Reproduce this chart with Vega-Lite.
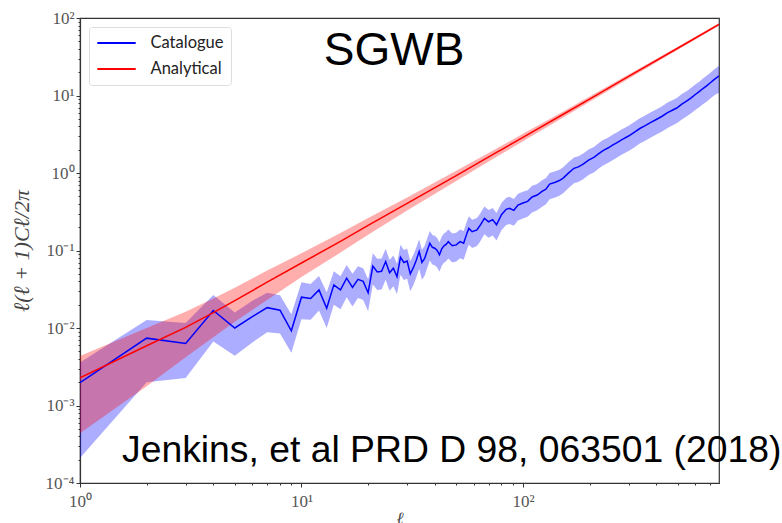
{
  "$schema": "https://vega.github.io/schema/vega-lite/v6.json",
  "width": 639,
  "height": 465,
  "autosize": {"type": "none"},
  "padding": {"left": 80, "top": 18, "right": 63, "bottom": 40},
  "background": "white",
  "config": {
    "view": {"stroke": "#333", "strokeWidth": 1.2},
    "axis": {
      "grid": false,
      "labelFont": "Liberation Serif",
      "labelFontSize": 17,
      "labelColor": "#555",
      "domainColor": "#333",
      "domainWidth": 1.2,
      "tickColor": "#333",
      "tickWidth": 1,
      "titleFont": "Liberation Serif",
      "titleFontWeight": "normal",
      "titleFontSize": 20,
      "titleFontStyle": "italic",
      "titleColor": "#444",
      "labelFlush": false,
      "labelOverlap": false,
      "labelBound": false
    },
    "legend": {
      "orient": "top-left",
      "offset": 9,
      "symbolType": "M-2.4,0H2.4",
      "symbolStrokeWidth": 2,
      "symbolSize": 256,
      "symbolOffset": 11.5,
      "labelFont": "Lato",
      "labelFontSize": 16.5,
      "labelColor": "#222",
      "strokeColor": "#dddddd",
      "fillColor": "white",
      "padding": 7,
      "cornerRadius": 3,
      "rowPadding": 8,
      "labelOffset": 25
    }
  },
  "datasets": {
    "cat": [
      {"l": 1, "v": 0.00197, "lo": 0.00021, "hi": 0.0036},
      {"l": 2, "v": 0.0074, "lo": 0.002, "hi": 0.0127},
      {"l": 3, "v": 0.0063, "lo": 0.00226, "hi": 0.0116},
      {"l": 4, "v": 0.0168, "lo": 0.0067, "hi": 0.0267},
      {"l": 5, "v": 0.01, "lo": 0.0044, "hi": 0.0158},
      {"l": 6, "v": 0.014, "lo": 0.0065, "hi": 0.0225},
      {"l": 7, "v": 0.0183, "lo": 0.0088, "hi": 0.0285},
      {"l": 8, "v": 0.017, "lo": 0.0085, "hi": 0.0265},
      {"l": 9, "v": 0.0092, "lo": 0.0048, "hi": 0.015},
      {"l": 10, "v": 0.025, "lo": 0.013, "hi": 0.039},
      {"l": 11, "v": 0.024, "lo": 0.0128, "hi": 0.037},
      {"l": 12, "v": 0.031, "lo": 0.0168, "hi": 0.047},
      {"l": 13, "v": 0.018, "lo": 0.01, "hi": 0.029},
      {"l": 14, "v": 0.036, "lo": 0.02, "hi": 0.054},
      {"l": 15, "v": 0.031, "lo": 0.0175, "hi": 0.0465},
      {"l": 16, "v": 0.044, "lo": 0.025, "hi": 0.065},
      {"l": 17, "v": 0.0335, "lo": 0.019, "hi": 0.05},
      {"l": 18, "v": 0.0425, "lo": 0.0243, "hi": 0.0625},
      {"l": 19, "v": 0.04, "lo": 0.023, "hi": 0.059},
      {"l": 20, "v": 0.0285, "lo": 0.0165, "hi": 0.0425},
      {"l": 21, "v": 0.063, "lo": 0.0365, "hi": 0.092},
      {"l": 22, "v": 0.053, "lo": 0.031, "hi": 0.078},
      {"l": 23, "v": 0.054, "lo": 0.0315, "hi": 0.079},
      {"l": 24, "v": 0.072, "lo": 0.042, "hi": 0.105},
      {"l": 25, "v": 0.0515, "lo": 0.0302, "hi": 0.0755},
      {"l": 26, "v": 0.059, "lo": 0.0346, "hi": 0.086},
      {"l": 27, "v": 0.046, "lo": 0.0272, "hi": 0.0675},
      {"l": 28, "v": 0.082, "lo": 0.0485, "hi": 0.119},
      {"l": 29, "v": 0.07, "lo": 0.0415, "hi": 0.1015},
      {"l": 30, "v": 0.073, "lo": 0.0433, "hi": 0.106},
      {"l": 31, "v": 0.05, "lo": 0.0298, "hi": 0.073},
      {"l": 32, "v": 0.06, "lo": 0.0357, "hi": 0.0875},
      {"l": 33, "v": 0.075, "lo": 0.0447, "hi": 0.109},
      {"l": 34, "v": 0.097, "lo": 0.058, "hi": 0.14},
      {"l": 35, "v": 0.07, "lo": 0.0419, "hi": 0.102},
      {"l": 36, "v": 0.079, "lo": 0.0473, "hi": 0.115},
      {"l": 37, "v": 0.1, "lo": 0.06, "hi": 0.145},
      {"l": 38, "v": 0.124, "lo": 0.0745, "hi": 0.179},
      {"l": 39, "v": 0.11, "lo": 0.0662, "hi": 0.159},
      {"l": 40, "v": 0.107, "lo": 0.0645, "hi": 0.155},
      {"l": 41, "v": 0.1, "lo": 0.0604, "hi": 0.145},
      {"l": 42, "v": 0.088, "lo": 0.0532, "hi": 0.1275},
      {"l": 43, "v": 0.105, "lo": 0.0636, "hi": 0.152},
      {"l": 44, "v": 0.115, "lo": 0.0697, "hi": 0.166},
      {"l": 45, "v": 0.12, "lo": 0.0728, "hi": 0.173},
      {"l": 46, "v": 0.13, "lo": 0.079, "hi": 0.187},
      {"l": 47, "v": 0.122, "lo": 0.0742, "hi": 0.176},
      {"l": 48, "v": 0.115, "lo": 0.07, "hi": 0.166},
      {"l": 50, "v": 0.118, "lo": 0.072, "hi": 0.17},
      {"l": 52, "v": 0.13, "lo": 0.0795, "hi": 0.187},
      {"l": 54, "v": 0.124, "lo": 0.076, "hi": 0.178},
      {"l": 56, "v": 0.17, "lo": 0.1045, "hi": 0.244},
      {"l": 57, "v": 0.193, "lo": 0.119, "hi": 0.276},
      {"l": 59, "v": 0.175, "lo": 0.108, "hi": 0.25},
      {"l": 62, "v": 0.184, "lo": 0.114, "hi": 0.262},
      {"l": 64, "v": 0.21, "lo": 0.13, "hi": 0.299},
      {"l": 67, "v": 0.26, "lo": 0.162, "hi": 0.369},
      {"l": 70, "v": 0.235, "lo": 0.1465, "hi": 0.333},
      {"l": 73, "v": 0.25, "lo": 0.156, "hi": 0.354},
      {"l": 76, "v": 0.215, "lo": 0.1345, "hi": 0.304},
      {"l": 80, "v": 0.29, "lo": 0.182, "hi": 0.409},
      {"l": 84, "v": 0.34, "lo": 0.2135, "hi": 0.479},
      {"l": 87, "v": 0.35, "lo": 0.22, "hi": 0.492},
      {"l": 91, "v": 0.33, "lo": 0.208, "hi": 0.463},
      {"l": 95, "v": 0.385, "lo": 0.243, "hi": 0.539},
      {"l": 100, "v": 0.41, "lo": 0.259, "hi": 0.573},
      {"l": 105, "v": 0.43, "lo": 0.272, "hi": 0.6},
      {"l": 110, "v": 0.49, "lo": 0.31, "hi": 0.683},
      {"l": 116, "v": 0.52, "lo": 0.33, "hi": 0.723},
      {"l": 122, "v": 0.58, "lo": 0.368, "hi": 0.806},
      {"l": 127, "v": 0.62, "lo": 0.394, "hi": 0.86},
      {"l": 132, "v": 0.72, "lo": 0.458, "hi": 0.997},
      {"l": 140, "v": 0.76, "lo": 0.484, "hi": 1.05},
      {"l": 146, "v": 0.8, "lo": 0.51, "hi": 1.104},
      {"l": 152, "v": 0.86, "lo": 0.548, "hi": 1.186},
      {"l": 160, "v": 0.99, "lo": 0.632, "hi": 1.363},
      {"l": 170, "v": 1.15, "lo": 0.735, "hi": 1.58},
      {"l": 178, "v": 1.2, "lo": 0.768, "hi": 1.646},
      {"l": 187, "v": 1.3, "lo": 0.832, "hi": 1.78},
      {"l": 198, "v": 1.47, "lo": 0.942, "hi": 2.01},
      {"l": 210, "v": 1.6, "lo": 1.025, "hi": 2.185},
      {"l": 220, "v": 1.78, "lo": 1.14, "hi": 2.43},
      {"l": 230, "v": 1.95, "lo": 1.25, "hi": 2.66},
      {"l": 242, "v": 2.1, "lo": 1.345, "hi": 2.86},
      {"l": 255, "v": 2.3, "lo": 1.475, "hi": 3.13},
      {"l": 265, "v": 2.45, "lo": 1.57, "hi": 3.33},
      {"l": 280, "v": 2.7, "lo": 1.73, "hi": 3.67},
      {"l": 300, "v": 3.0, "lo": 1.92, "hi": 4.07},
      {"l": 318, "v": 3.35, "lo": 2.14, "hi": 4.54},
      {"l": 337, "v": 3.75, "lo": 2.4, "hi": 5.08},
      {"l": 355, "v": 4.05, "lo": 2.59, "hi": 5.48},
      {"l": 378, "v": 4.5, "lo": 2.87, "hi": 6.08},
      {"l": 400, "v": 4.9, "lo": 3.13, "hi": 6.62},
      {"l": 425, "v": 5.4, "lo": 3.44, "hi": 7.29},
      {"l": 450, "v": 6.0, "lo": 3.82, "hi": 8.1},
      {"l": 475, "v": 6.5, "lo": 4.13, "hi": 8.77},
      {"l": 495, "v": 6.9, "lo": 4.38, "hi": 9.31},
      {"l": 520, "v": 7.7, "lo": 4.88, "hi": 10.39},
      {"l": 550, "v": 8.5, "lo": 5.38, "hi": 11.47},
      {"l": 575, "v": 9.3, "lo": 5.88, "hi": 12.55},
      {"l": 600, "v": 10.3, "lo": 6.5, "hi": 13.9},
      {"l": 625, "v": 11.2, "lo": 7.05, "hi": 15.1},
      {"l": 650, "v": 12.3, "lo": 7.72, "hi": 16.6},
      {"l": 675, "v": 13.3, "lo": 8.32, "hi": 17.95},
      {"l": 700, "v": 14.5, "lo": 9.05, "hi": 19.55},
      {"l": 725, "v": 15.8, "lo": 9.82, "hi": 21.3},
      {"l": 750, "v": 17.0, "lo": 10.5, "hi": 22.9},
      {"l": 768, "v": 17.9, "lo": 10.8, "hi": 24.1}
    ],
    "ana": [
      {"l": 1, "v": 0.00228, "lo": 0.00044, "hi": 0.00435},
      {"l": 2, "v": 0.0059, "lo": 0.00177, "hi": 0.01},
      {"l": 3, "v": 0.0102, "lo": 0.0042, "hi": 0.0162},
      {"l": 4, "v": 0.0158, "lo": 0.0076, "hi": 0.024},
      {"l": 5, "v": 0.0226, "lo": 0.012, "hi": 0.033},
      {"l": 7, "v": 0.039, "lo": 0.023, "hi": 0.055},
      {"l": 10, "v": 0.069, "lo": 0.0455, "hi": 0.092},
      {"l": 15, "v": 0.131, "lo": 0.094, "hi": 0.168},
      {"l": 20, "v": 0.211, "lo": 0.16, "hi": 0.262},
      {"l": 30, "v": 0.405, "lo": 0.328, "hi": 0.482},
      {"l": 50, "v": 0.927, "lo": 0.788, "hi": 1.066},
      {"l": 75, "v": 1.8, "lo": 1.58, "hi": 2.02},
      {"l": 100, "v": 2.88, "lo": 2.56, "hi": 3.2},
      {"l": 150, "v": 5.6, "lo": 5.1, "hi": 6.1},
      {"l": 200, "v": 9.0, "lo": 8.33, "hi": 9.68},
      {"l": 300, "v": 17.6, "lo": 16.5, "hi": 18.7},
      {"l": 500, "v": 40.7, "lo": 38.8, "hi": 42.6},
      {"l": 768, "v": 82.6, "lo": 79.3, "hi": 85.9}
    ],
    "notes": [
      {"label": "SGWB"},
      {"label": "Jenkins, et al PRD D 98, 063501 (2018)"}
    ]
  },
  "layer": [
    {
      "data": {"name": "cat"},
      "mark": {"type": "area", "color": "#0000ff", "opacity": 0.32, "clip": true},
      "encoding": {
        "x": {
          "field": "l",
          "type": "quantitative",
          "title": "ℓ",
          "scale": {"type": "log", "domain": [1, 768], "nice": false},
          "axis": {
            "values": [1, 2, 3, 4, 5, 6, 7, 8, 9, 10, 20, 30, 40, 50, 60, 70, 80, 90, 100, 200, 300, 400, 500, 600, 700],
            "labelExpr": "abs(log(datum.value)/LN10 - round(log(datum.value)/LN10)) < 1e-6 ? ['10⁻⁴','10⁻³','10⁻²','10⁻¹','10⁰','10¹','10²'][round(log(datum.value)/LN10)+4] : ''",
            "tickSize": {"condition": {"test": "abs(log(datum.value)/LN10 - round(log(datum.value)/LN10)) < 1e-6", "value": 4}, "value": 2},
            "labelFontSize": 17,
            "labelPadding": 6,
            "titlePadding": 1,
            "titleFontSize": 17
          }
        },
        "y": {
          "field": "lo",
          "type": "quantitative",
          "title": "ℓ(ℓ + 1)Cℓ/2π",
          "scale": {"type": "log", "domain": [0.0001, 100], "nice": false},
          "axis": {
            "values": [0.0001, 0.0002, 0.0003, 0.0004, 0.0005, 0.0006, 0.0007, 0.0008, 0.0009, 0.001, 0.002, 0.003, 0.004, 0.005, 0.006, 0.007, 0.008, 0.009, 0.01, 0.02, 0.03, 0.04, 0.05, 0.06, 0.07, 0.08, 0.09, 0.1, 0.2, 0.3, 0.4, 0.5, 0.6, 0.7, 0.8, 0.9, 1, 2, 3, 4, 5, 6, 7, 8, 9, 10, 20, 30, 40, 50, 60, 70, 80, 90, 100],
            "labelExpr": "abs(log(datum.value)/LN10 - round(log(datum.value)/LN10)) < 1e-6 ? ['10⁻⁴','10⁻³','10⁻²','10⁻¹','10⁰','10¹','10²'][round(log(datum.value)/LN10)+4] : ''",
            "tickSize": {"condition": {"test": "abs(log(datum.value)/LN10 - round(log(datum.value)/LN10)) < 1e-6", "value": 4}, "value": 2},
            "labelFontSize": 17,
            "labelPadding": 2,
            "titlePadding": 12,
            "titleFontSize": 22
          }
        },
        "y2": {"field": "hi"}
      }
    },
    {
      "data": {"name": "ana"},
      "mark": {"type": "area", "color": "#ff0000", "opacity": 0.32, "clip": true},
      "encoding": {
        "x": {"field": "l", "type": "quantitative", "title": "ℓ"},
        "y": {"field": "lo", "type": "quantitative", "title": "ℓ(ℓ + 1)Cℓ/2π"},
        "y2": {"field": "hi"}
      }
    },
    {
      "data": {"name": "cat"},
      "mark": {"type": "line", "strokeWidth": 1.5, "clip": true},
      "encoding": {
        "x": {"field": "l", "type": "quantitative", "title": "ℓ"},
        "y": {"field": "v", "type": "quantitative", "title": "ℓ(ℓ + 1)Cℓ/2π"},
        "color": {"datum": "Catalogue", "type": "nominal", "title": null,
          "scale": {"domain": ["Catalogue", "Analytical"], "range": ["#0000ff", "#ff0000"]}}
      }
    },
    {
      "data": {"name": "ana"},
      "mark": {"type": "line", "strokeWidth": 1.5, "clip": true},
      "encoding": {
        "x": {"field": "l", "type": "quantitative", "title": "ℓ"},
        "y": {"field": "v", "type": "quantitative", "title": "ℓ(ℓ + 1)Cℓ/2π"},
        "color": {"datum": "Analytical", "type": "nominal", "title": null}
      }
    },
    {
      "data": {"name": "notes"},
      "transform": [{"filter": "datum.label == 'SGWB'"}],
      "mark": {"type": "text", "font": "Liberation Sans", "fontSize": 46, "align": "center", "baseline": "alphabetic", "fill": "#000000"},
      "encoding": {
        "x": {"datum": 26.2, "type": "quantitative"},
        "y": {"datum": 24.7, "type": "quantitative"},
        "text": {"field": "label", "type": "nominal"}
      }
    },
    {
      "data": {"name": "notes"},
      "transform": [{"filter": "datum.label != 'SGWB'"}],
      "mark": {"type": "text", "font": "Liberation Sans", "fontSize": 37.3, "align": "left", "baseline": "alphabetic", "fill": "#000000"},
      "encoding": {
        "x": {"datum": 1.548, "type": "quantitative"},
        "y": {"datum": 0.0001866, "type": "quantitative"},
        "text": {"field": "label", "type": "nominal"}
      }
    }
  ]
}
